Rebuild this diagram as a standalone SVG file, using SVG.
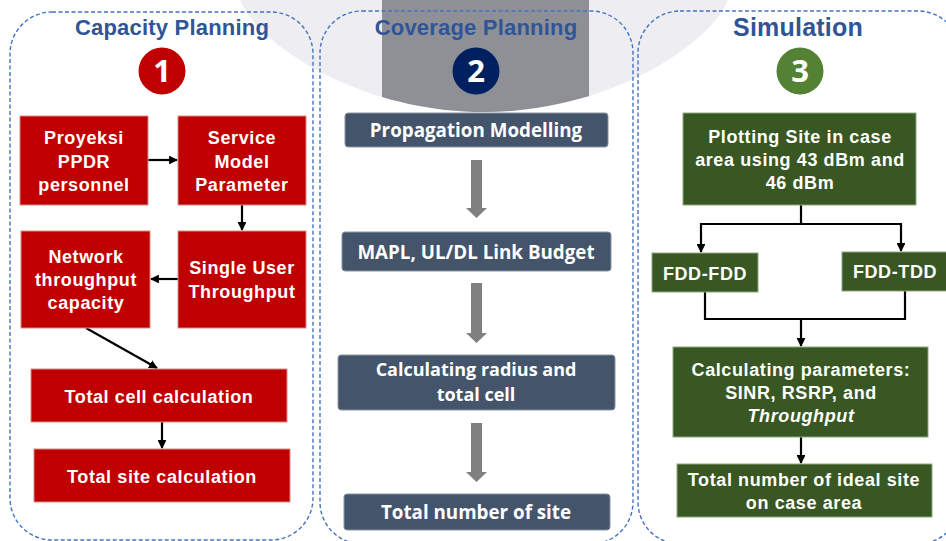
<svg xmlns="http://www.w3.org/2000/svg" width="946" height="541" viewBox="0 0 946 541">
<defs>
<style>
.panel{fill:none;stroke:#4472C4;stroke-width:1.4;stroke-dasharray:4 2.5}
.title{font-family:"Liberation Sans",Arial,sans-serif;font-weight:bold;font-size:22px;fill:#2F5597;text-anchor:middle;letter-spacing:0.2px}
.num{font-family:"Open Sans","Liberation Sans",sans-serif;font-weight:bold;font-size:31px;fill:#fff;text-anchor:middle}
.red{fill:#C00000;stroke:#D98C8C;stroke-width:1}
.grn{fill:#385723;stroke:#8FA882;stroke-width:1}
.slate{fill:#44546A;stroke:#8A95A5;stroke-width:1}
.t{font-family:"Liberation Sans",Arial,sans-serif;font-weight:bold;font-size:18px;fill:#fff;text-anchor:middle;letter-spacing:0.6px}
.c{font-family:"Open Sans","Noto Sans",sans-serif;font-weight:bold;font-size:18.8px;fill:#fff;text-anchor:middle}
.ln{fill:none;stroke:#000;stroke-width:2.2}
.blk{fill:#808080}
</style>
<marker id="ah" viewBox="0 0 10 10" refX="9" refY="5" markerWidth="4" markerHeight="4" orient="auto" markerUnits="strokeWidth">
<path d="M0,0 L10,5 L0,10 z" fill="#000"/>
</marker>
<clipPath id="bgclip"><path d="M240,0 C258,45 360,112 484,112 C608,112 710,45 728,0 Z"/></clipPath>
</defs>
<rect width="946" height="541" fill="#fff"/>
<g id="background">
<path d="M240,0 C258,45 360,112 484,112 C608,112 710,45 728,0 Z" fill="#EEEEF2"/>
<rect x="382" y="0" width="207" height="120" fill="#8E9096" clip-path="url(#bgclip)"/>
</g>
<g id="panels">
<rect class="panel" x="10" y="12" width="303" height="528" rx="42"/>
<rect class="panel" x="320" y="11" width="313" height="533" rx="42"/>
<rect class="panel" x="638" y="11" width="322" height="533" rx="42"/>
</g>
<g id="titles">
<text class="title" x="172" y="35">Capacity Planning</text>
<text class="title" x="476" y="35">Coverage Planning</text>
<text class="title" x="798" y="36" style="font-size:25px">Simulation</text>
</g>
<g id="step1"><circle cx="162" cy="71" r="23.5" fill="#C00000"/><text class="num" x="162" y="82">1</text></g>
<g id="step2"><circle cx="476" cy="71" r="23.5" fill="#002060"/><text class="num" x="476" y="82">2</text></g>
<g id="step3"><circle cx="800" cy="71" r="23.5" fill="#548235"/><text class="num" x="800" y="82">3</text></g>

<g id="connectors">
<line class="ln" x1="148" y1="160" x2="177" y2="160" marker-end="url(#ah)"/>
<line class="ln" x1="242" y1="205" x2="242" y2="230" marker-end="url(#ah)"/>
<line class="ln" x1="178" y1="279" x2="151" y2="279" marker-end="url(#ah)"/>
<line class="ln" x1="86" y1="328" x2="157" y2="368" marker-end="url(#ah)"/>
<line class="ln" x1="162" y1="422" x2="162" y2="448" marker-end="url(#ah)"/>
<path class="blk" d="M471,160 H482 V208 H487 L476.5,218 L466,208 H471 Z"/>
<path class="blk" d="M471,283 H482 V333 H487 L476.5,343 L466,333 H471 Z"/>
<path class="blk" d="M471,423 H482 V472 H487 L476.5,482 L466,472 H471 Z"/>
<path class="ln" d="M801,205 V224 M701,224 H901"/>
<line class="ln" x1="701" y1="223" x2="701" y2="252" marker-end="url(#ah)"/>
<line class="ln" x1="901" y1="223" x2="901" y2="251" marker-end="url(#ah)"/>
<path class="ln" d="M705,292 V319 H905 V291"/>
<line class="ln" x1="801" y1="319" x2="801" y2="346" marker-end="url(#ah)"/>
<line class="ln" x1="801" y1="437" x2="801" y2="463" marker-end="url(#ah)"/>
</g>

<g id="proyeksi"><rect class="red" x="20" y="116" width="128" height="89"/>
<text class="t" x="84" y="144">Proyeksi</text><text class="t" x="84" y="168">PPDR</text><text class="t" x="84" y="191">personnel</text></g>
<g id="service"><rect class="red" x="178" y="116" width="128" height="89"/>
<text class="t" x="242" y="144">Service</text><text class="t" x="242" y="168">Model</text><text class="t" x="242" y="191">Parameter</text></g>
<g id="network"><rect class="red" x="21" y="231" width="129" height="97"/>
<text class="t" x="86" y="263">Network</text><text class="t" x="86" y="286">throughput</text><text class="t" x="86" y="309">capacity</text></g>
<g id="single"><rect class="red" x="178" y="231" width="128" height="97"/>
<text class="t" x="242" y="274">Single User</text><text class="t" x="242" y="298">Throughput</text></g>
<g id="totalcell"><rect class="red" x="31" y="369" width="256" height="53"/>
<text class="t" x="159" y="403">Total cell calculation</text></g>
<g id="totalsite"><rect class="red" x="34" y="449" width="256" height="53"/>
<text class="t" x="162" y="483">Total site calculation</text></g>

<g id="propagation"><rect class="slate" x="345" y="113" width="263" height="34" rx="3"/>
<text class="c" x="476" y="137">Propagation Modelling</text></g>
<g id="mapl"><rect class="slate" x="342" y="232" width="269" height="39" rx="3"/>
<text class="c" x="476" y="259">MAPL, UL/DL Link Budget</text></g>
<g id="radius"><rect class="slate" x="338" y="355" width="277" height="55" rx="3"/>
<text class="c" x="476" y="376" style="font-size:18px">Calculating radius and</text><text class="c" x="476" y="401" style="font-size:18px">total cell</text></g>
<g id="totalnumber"><rect class="slate" x="344" y="494" width="266" height="36" rx="3"/>
<text class="c" x="476" y="519">Total number of site</text></g>

<g id="plotting"><rect class="grn" x="683" y="113" width="233" height="92"/>
<text class="t" x="800" y="143">Plotting Site in case</text><text class="t" x="800" y="166">area using 43 dBm and</text><text class="t" x="800" y="189">46 dBm</text></g>
<g id="fddfdd"><rect class="grn" x="652" y="253" width="106" height="39"/>
<text class="t" x="705" y="280">FDD-FDD</text></g>
<g id="fddtdd"><rect class="grn" x="842" y="252" width="108" height="39"/>
<text class="t" x="895" y="278">FDD-TDD</text></g>
<g id="params"><rect class="grn" x="673" y="347" width="255" height="90"/>
<text class="t" x="801" y="376">Calculating parameters:</text><text class="t" x="801" y="399">SINR, RSRP, and</text><text class="t" x="801" y="422" font-style="italic">Throughput</text></g>
<g id="ideal"><rect class="grn" x="677" y="464" width="255" height="53"/>
<text class="t" x="804" y="486">Total number of ideal site</text><text class="t" x="804" y="509">on case area</text></g>
</svg>
